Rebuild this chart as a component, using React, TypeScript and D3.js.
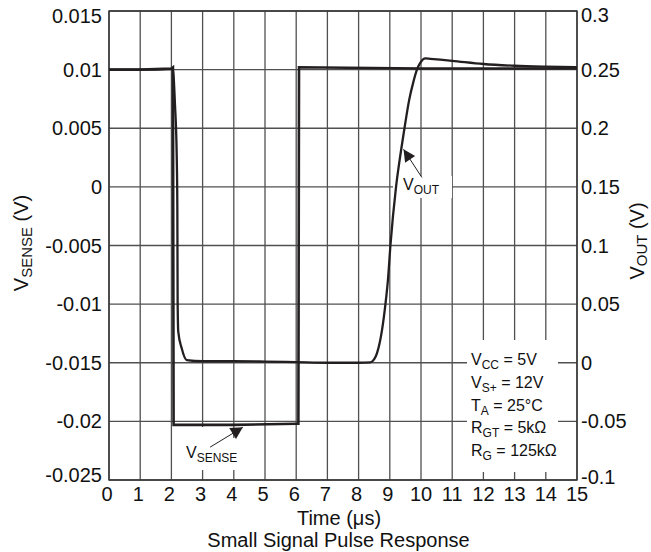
import React from "react";
import * as d3 from "d3";

// ---- data ----
const xTicks = [0, 1, 2, 3, 4, 5, 6, 7, 8, 9, 10, 11, 12, 13, 14, 15];
const leftTicks = [-0.025, -0.02, -0.015, -0.01, -0.005, 0, 0.005, 0.01, 0.015];
const leftTickLabels = ["-0.025", "-0.02", "-0.015", "-0.01", "-0.005", "0", "0.005", "0.01", "0.015"];
const rightTicks = [-0.1, -0.05, 0, 0.05, 0.1, 0.15, 0.2, 0.25, 0.3];
const rightTickLabels = ["-0.1", "-0.05", "0", "0.05", "0.1", "0.15", "0.2", "0.25", "0.3"];

const vsenseTime = [0, 1, 2.0, 2.05, 2.07, 4, 6.0, 6.07, 6.09, 10, 15];
const vsenseValue = [0.01, 0.01, 0.0101, 0.0102, -0.0203, -0.0203, -0.0202, -0.0202, 0.0102, 0.0101, 0.0101];

const voutTime = [0, 1, 2.0, 2.04, 2.115, 2.17, 2.19, 2.195, 2.2, 2.22, 2.33, 2.49, 3, 4, 5, 6, 7, 8, 8.38, 8.5, 8.59, 8.75, 8.86, 8.94, 9.02, 9.2, 9.36, 9.47, 9.62, 9.76, 9.87, 9.97, 10.14, 10.3, 11, 12, 13, 14, 15];
const voutValue = [0.25, 0.25, 0.2505, 0.2512, 0.22, 0.177, 0.134, 0.092, 0.052, 0.0265, 0.0123, 0.0023, 0.0013, 0.0013, 0.001, 0.0005, 0.0, 0.0, 0.0003, 0.003, 0.0082, 0.0278, 0.05, 0.0705, 0.1, 0.15, 0.181, 0.2, 0.224, 0.24, 0.25, 0.2555, 0.2596, 0.2592, 0.2575, 0.2548, 0.2533, 0.2525, 0.252];

const conditions = [
  { main: "V", sub: "CC", rest: " = 5V" },
  { main: "V", sub: "S+", rest: " = 12V" },
  { main: "T", sub: "A", rest: " = 25°C" },
  { main: "R", sub: "GT", rest: " = 5kΩ" },
  { main: "R", sub: "G", rest: " = 125kΩ" },
];

// annotation anchors (data units)
const voutArrow = { tip: [9.44, 0.182], tail: [10.03, 0.158] };
const vsenseArrow = { tip: [4.29, -0.0205], tail: [3.24, -0.0222] };

const FONT = "'Liberation Sans', Arial, Helvetica, sans-serif";
const INK = "#231f20";
const GRID = "#505050";

function arrowHead(tip: [number, number], tail: [number, number], len: number, half: number) {
  const dx = tip[0] - tail[0];
  const dy = tip[1] - tail[1];
  const d = Math.hypot(dx, dy);
  const ux = dx / d, uy = dy / d;
  const bx = tip[0] - ux * len, by = tip[1] - uy * len;
  return `M${tip[0]},${tip[1]}L${bx - uy * half},${by + ux * half}L${bx + uy * half},${by - ux * half}Z`;
}

export default function App() {
  const W = 651, H = 552;
  const left = 109, right = 577, top = 11, bottom = 480;
  const x = d3.scaleLinear().domain([0, 15]).range([left, right]);
  const yL = d3.scaleLinear().domain([-0.025, 0.015]).range([bottom, top]);
  const yR = d3.scaleLinear().domain([-0.1, 0.3]).range([bottom, top]);

  const vsLine = d3
    .line<number>()
    .x((_, i) => x(vsenseTime[i]))
    .y((d) => yL(d));
  const voLine = d3
    .line<number>()
    .x((_, i) => x(voutTime[i]))
    .y((d) => yR(d))
    .curve(d3.curveMonotoneX);

  const vTip: [number, number] = [x(voutArrow.tip[0]), yR(voutArrow.tip[1])];
  const vTail: [number, number] = [x(voutArrow.tail[0]), yR(voutArrow.tail[1])];
  const sTip: [number, number] = [x(vsenseArrow.tip[0]), yL(vsenseArrow.tip[1])];
  const sTail: [number, number] = [x(vsenseArrow.tail[0]), yL(vsenseArrow.tail[1])];

  return (
    <svg
      width={W}
      height={H}
      style={{ position: "absolute", left: 0, top: 0, background: "#fff" }}
      fontFamily={FONT}
    >
      <rect x={0} y={0} width={W} height={H} fill="#fff" />
      {/* grid */}
      {xTicks.map((t) => (
        <line key={"gx" + t} x1={x(t)} x2={x(t)} y1={top} y2={bottom} stroke={GRID} strokeWidth={1.3} />
      ))}
      {leftTicks.map((t) => (
        <line key={"gy" + t} x1={left} x2={right} y1={yL(t)} y2={yL(t)} stroke={GRID} strokeWidth={1.3} />
      ))}
      <rect x={left} y={top} width={right - left} height={bottom - top} fill="none" stroke="#333" strokeWidth={1.4} />

      {/* white boxes behind labels */}
      <rect x={467} y={340} width={91} height={132} fill="#fff" />
      <rect x={393} y={176} width={59} height={22} fill="#fff" />
      <rect x={182} y={438} width={62} height={32} fill="#fff" />
      <rect x={198} y={427} width={10} height={12} fill="#fff" />

      {/* series */}
      <path d={voLine(voutValue) || ""} fill="none" stroke={INK} strokeWidth={2.3} strokeLinejoin="round" />
      <path d={vsLine(vsenseValue) || ""} fill="none" stroke={INK} strokeWidth={2.6} strokeLinejoin="miter" />

      {/* left ticks */}
      {leftTicks.map((t, i) => (
        <text
          key={"lt" + t}
          x={102}
          y={yL(t) + (i === 0 ? -5 : i === leftTicks.length - 1 ? 5 : 0)}
          dy="0.35em"
          textAnchor="end"
          fontSize={20}
          fill="#111"
        >
          {leftTickLabels[i]}
        </text>
      ))}
      {/* right ticks */}
      {rightTicks.map((t, i) => (
        <text
          key={"rt" + t}
          x={581}
          y={yR(t) + (i === 0 ? -3 : i === rightTicks.length - 1 ? 4 : 0)}
          dy="0.35em"
          textAnchor="start"
          fontSize={20}
          fill="#111"
        >
          {rightTickLabels[i]}
        </text>
      ))}
      {/* x ticks */}
      {xTicks.map((t) => (
        <text key={"xt" + t} x={x(t) - (t < 10 ? 2 : 0)} y={500.5} textAnchor="middle" fontSize={20} fill="#111">
          {t}
        </text>
      ))}

      {/* axis titles */}
      <text x={339} y={525} textAnchor="middle" fontSize={20} fill="#111">
        Time (μs)
      </text>
      <text x={338.5} y={547} textAnchor="middle" fontSize={20} fill="#111">
        Small Signal Pulse Response
      </text>
      <text transform="translate(28,243) rotate(-90)" textAnchor="middle" fontSize={20} fill="#111">
        <tspan>V</tspan>
        <tspan fontSize={15} dy={4}>SENSE</tspan>
        <tspan dy={-4}> (V)</tspan>
      </text>
      <text transform="translate(644,241) rotate(-90)" textAnchor="middle" fontSize={20} fill="#111">
        <tspan>V</tspan>
        <tspan fontSize={15} dy={3}>OUT</tspan>
        <tspan dy={-3}> (V)</tspan>
      </text>

      {/* conditions */}
      {conditions.map((c, i) => (
        <text key={"c" + i} x={471} y={365 + i * 22.8} fontSize={16} fill="#111">
          <tspan>{c.main}</tspan>
          <tspan fontSize={12} dy={4}>{c.sub}</tspan>
          <tspan dy={-4}>{c.rest}</tspan>
        </text>
      ))}

      {/* annotations */}
      <line x1={vTail[0]} y1={vTail[1]} x2={vTip[0]} y2={vTip[1]} stroke={INK} strokeWidth={1} />
      <path d={arrowHead(vTip, vTail, 12, 6)} fill={INK} />
      <text x={403} y={189.5} fontSize={16} fill="#111">
        <tspan>V</tspan>
        <tspan fontSize={12} dy={4.5}>OUT</tspan>
      </text>

      <line x1={sTail[0]} y1={sTail[1]} x2={sTip[0]} y2={sTip[1]} stroke={INK} strokeWidth={1} />
      <path d={arrowHead(sTip, sTail, 12, 6.5)} fill={INK} />
      <text x={186} y={458} fontSize={16} fill="#111">
        <tspan>V</tspan>
        <tspan fontSize={12} dy={4}>SENSE</tspan>
      </text>
    </svg>
  );
}
